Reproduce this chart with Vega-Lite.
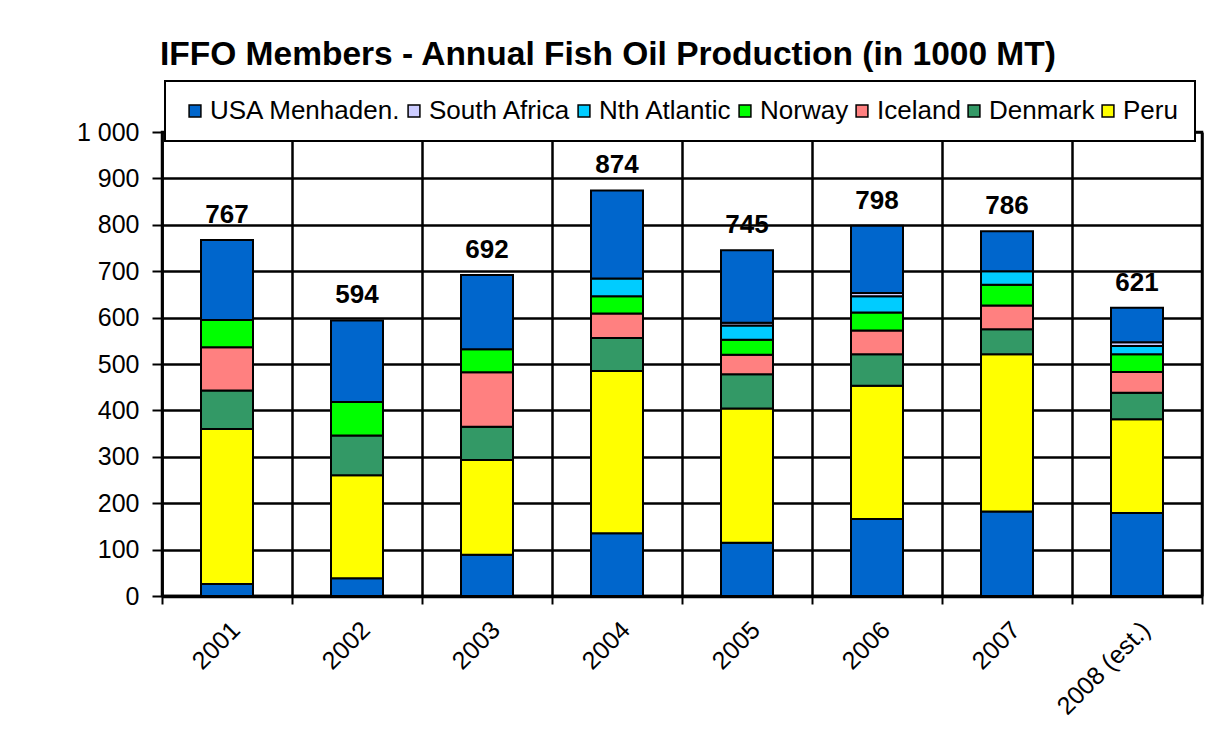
{
  "$schema": "https://vega.github.io/schema/vega-lite/v6.json",
  "width": 1040,
  "height": 464,
  "autosize": "none",
  "padding": {"left": 162, "top": 132, "right": 19, "bottom": 147},
  "background": "white",
  "title": {
    "text": "IFFO Members - Annual Fish Oil Production (in 1000 MT)",
    "anchor": "start",
    "frame": "group",
    "fontSize": 33.5,
    "fontWeight": "bold",
    "font": "Liberation Sans",
    "color": "black",
    "offset": 8,
    "dx": -2
  },
  "data": {
    "values": [
      {"year": "2001", "series": "Chile", "value": 26},
      {"year": "2001", "series": "Peru", "value": 334},
      {"year": "2001", "series": "Denmark", "value": 83},
      {"year": "2001", "series": "Iceland", "value": 93},
      {"year": "2001", "series": "Norway", "value": 59},
      {"year": "2001", "series": "USA Menhaden.", "value": 172},
      {"year": "2002", "series": "Chile", "value": 38},
      {"year": "2002", "series": "Peru", "value": 222},
      {"year": "2002", "series": "Denmark", "value": 86},
      {"year": "2002", "series": "Norway", "value": 72},
      {"year": "2002", "series": "USA Menhaden.", "value": 176},
      {"year": "2003", "series": "Chile", "value": 89},
      {"year": "2003", "series": "Peru", "value": 204},
      {"year": "2003", "series": "Denmark", "value": 72},
      {"year": "2003", "series": "Iceland", "value": 117},
      {"year": "2003", "series": "Norway", "value": 50},
      {"year": "2003", "series": "USA Menhaden.", "value": 160},
      {"year": "2004", "series": "Chile", "value": 135},
      {"year": "2004", "series": "Peru", "value": 350},
      {"year": "2004", "series": "Denmark", "value": 71},
      {"year": "2004", "series": "Iceland", "value": 53},
      {"year": "2004", "series": "Norway", "value": 37},
      {"year": "2004", "series": "Nth Atlantic", "value": 38},
      {"year": "2004", "series": "USA Menhaden.", "value": 190},
      {"year": "2005", "series": "Chile", "value": 115},
      {"year": "2005", "series": "Peru", "value": 289},
      {"year": "2005", "series": "Denmark", "value": 74},
      {"year": "2005", "series": "Iceland", "value": 42},
      {"year": "2005", "series": "Norway", "value": 32},
      {"year": "2005", "series": "Nth Atlantic", "value": 31},
      {"year": "2005", "series": "South Africa", "value": 6},
      {"year": "2005", "series": "USA Menhaden.", "value": 156},
      {"year": "2006", "series": "Chile", "value": 166},
      {"year": "2006", "series": "Peru", "value": 287},
      {"year": "2006", "series": "Denmark", "value": 68},
      {"year": "2006", "series": "Iceland", "value": 51},
      {"year": "2006", "series": "Norway", "value": 39},
      {"year": "2006", "series": "Nth Atlantic", "value": 35},
      {"year": "2006", "series": "South Africa", "value": 7},
      {"year": "2006", "series": "USA Menhaden.", "value": 145},
      {"year": "2007", "series": "Chile", "value": 182},
      {"year": "2007", "series": "Peru", "value": 339},
      {"year": "2007", "series": "Denmark", "value": 54},
      {"year": "2007", "series": "Iceland", "value": 51},
      {"year": "2007", "series": "Norway", "value": 45},
      {"year": "2007", "series": "Nth Atlantic", "value": 29},
      {"year": "2007", "series": "USA Menhaden.", "value": 86},
      {"year": "2008 (est.)", "series": "Chile", "value": 179},
      {"year": "2008 (est.)", "series": "Peru", "value": 202},
      {"year": "2008 (est.)", "series": "Denmark", "value": 57},
      {"year": "2008 (est.)", "series": "Iceland", "value": 45},
      {"year": "2008 (est.)", "series": "Norway", "value": 38},
      {"year": "2008 (est.)", "series": "Nth Atlantic", "value": 18},
      {"year": "2008 (est.)", "series": "South Africa", "value": 8},
      {"year": "2008 (est.)", "series": "USA Menhaden.", "value": 74}
    ]
  },
  "layer": [
    {
      "transform": [
        {"calculate": "indexof(['Chile','Peru','Denmark','Iceland','Norway','Nth Atlantic','South Africa','USA Menhaden.'], datum.series)", "as": "stackRank"}
      ],
      "mark": {"type": "bar", "width": {"band": 0.4}, "stroke": "black", "strokeWidth": 2},
      "encoding": {
        "x": {
          "field": "year", "type": "nominal", "sort": null,
          "scale": {"paddingInner": 0, "paddingOuter": 0},
          "axis": {
            "title": null,
            "tickBand": "extent",
            "labelAngle": -45,
            "labelFontSize": 25,
            "labelColor": "black",
            "labelPadding": 13,
            "grid": true,
            "gridColor": "black",
            "gridWidth": 2.5,
            "gridOpacity": 1,
            "ticks": true,
            "tickColor": "black",
            "tickWidth": 2,
            "tickSize": 8,
            "domainColor": "black",
            "domainWidth": 3.5
          }
        },
        "y": {
          "field": "value", "type": "quantitative", "aggregate": "sum", "stack": "zero",
          "scale": {"domain": [0, 1000], "nice": false},
          "axis": {
            "title": null,
            "values": [0, 100, 200, 300, 400, 500, 600, 700, 800, 900, 1000],
            "labelExpr": "datum.value == 1000 ? '1 000' : datum.label",
            "labelFontSize": 25,
            "labelColor": "black",
            "labelPadding": 13,
            "grid": true,
            "gridColor": "black",
            "gridWidth": 2.5,
            "gridOpacity": 1,
            "tickColor": "black",
            "tickWidth": 2,
            "tickSize": 10,
            "domainColor": "black",
            "domainWidth": 2.5
          }
        },
        "color": {
          "field": "series", "type": "nominal",
          "scale": {
            "domain": ["USA Menhaden.", "South Africa", "Nth Atlantic", "Norway", "Iceland", "Denmark", "Peru", "Chile"],
            "range": ["#0066CC", "#CCCCFF", "#00CCFF", "#00FF00", "#FF8080", "#339966", "#FFFF00", "#0066CC"]
          },
          "legend": {
            "values": ["USA Menhaden.", "South Africa", "Nth Atlantic", "Norway", "Iceland", "Denmark", "Peru"],
            "title": null,
            "orient": "none",
            "legendX": 3,
            "legendY": -51,
            "direction": "horizontal",
            "columns": 7,
            "columnPadding": 0,
            "labelFontSize": 26,
            "labelLimit": 400,
            "labelColor": "black",
            "labelOffset": 2,
            "symbolType": "square",
            "symbolSize": 140,
            "symbolStrokeColor": "black",
            "symbolStrokeWidth": 1.5,
            "symbolOpacity": 1,
            "fillColor": "white",
            "strokeColor": "black",
            "padding": 17
          }
        },
        "order": {"field": "stackRank", "type": "quantitative", "sort": "ascending"}
      }
    },
    {
      "transform": [
        {"aggregate": [{"op": "sum", "field": "value", "as": "total"}], "groupby": ["year"]}
      ],
      "mark": {"type": "text", "fontSize": 26, "fontWeight": "bold", "baseline": "alphabetic", "dy": -17, "color": "black"},
      "encoding": {
        "x": {"field": "year", "type": "nominal", "sort": null, "bandPosition": 0.5},
        "y": {"field": "total", "type": "quantitative"},
        "text": {"field": "total", "type": "quantitative"}
      }
    }
  ],
  "config": {
    "font": "Liberation Sans",
    "view": {"stroke": "black", "strokeWidth": 2.5},
    "axis": {"labelFont": "Liberation Sans"},
    "legend": {"labelFont": "Liberation Sans", "strokeWidth": 2}
  }
}
